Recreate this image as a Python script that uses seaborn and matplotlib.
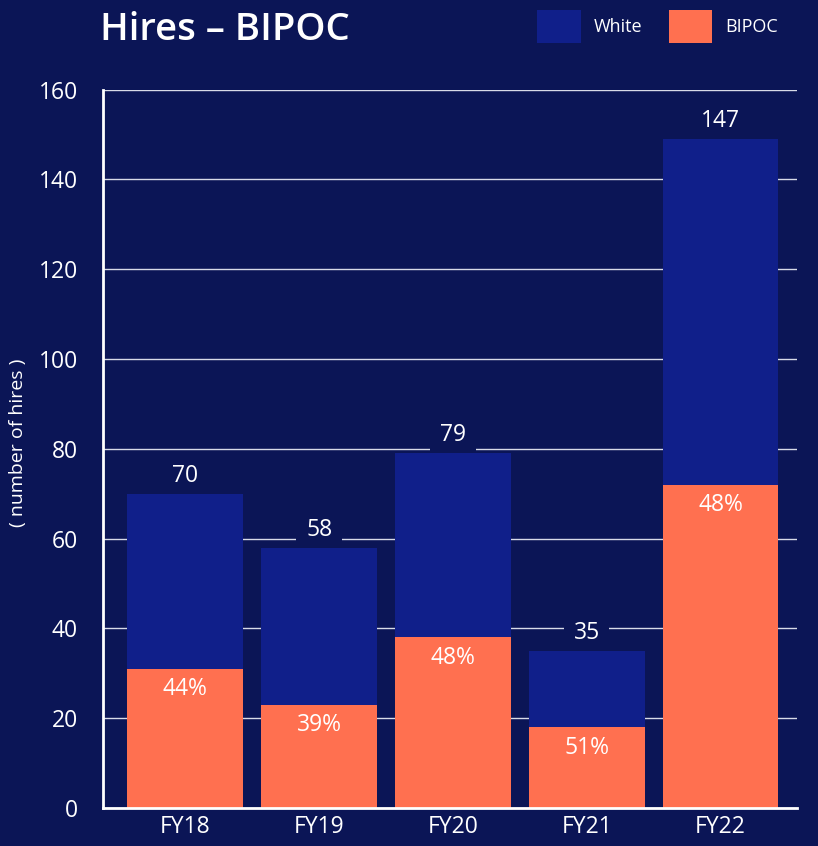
import matplotlib
matplotlib.use("Agg")
import matplotlib.pyplot as plt
import seaborn as sns
import pandas as pd
from matplotlib.patches import Patch

# data
years = ["FY18", "FY19", "FY20", "FY21", "FY22"]
bipoc = [31, 23, 38, 18, 72]
white = [39, 35, 41, 17, 77]
total_labels = ["70", "58", "79", "35", "147"]
pct_labels = ["44%", "39%", "48%", "51%", "48%"]

bg = "#0b1556"
c_white = "#101f8a"
c_bipoc = "#ff7050"

df = pd.DataFrame({"year": years, "bipoc": bipoc, "white": white})
df["total"] = df["bipoc"] + df["white"]

sns.set_style("white")
plt.rcParams["font.family"] = ["Open Sans", "DejaVu Sans"]

fig = plt.figure(figsize=(8.18, 8.46), dpi=100, facecolor=bg)
ax = fig.add_axes([0.126, 0.045, 0.848, 0.849])
ax.set_facecolor(bg)

sns.barplot(data=df, x="year", y="total", color=c_white, width=0.866,
            saturation=1, ax=ax, zorder=2, linewidth=0, edgecolor="none")
sns.barplot(data=df, x="year", y="bipoc", color=c_bipoc, width=0.866,
            saturation=1, ax=ax, zorder=2, linewidth=0, edgecolor="none")

ax.set_ylim(0, 160)
ax.set_xlim(-0.615, 4.57)
ax.set_yticks(range(0, 161, 20))
ax.yaxis.grid(True, color="#d8dbe8", lw=1)
ax.set_axisbelow(True)
for s in ["top", "right"]:
    ax.spines[s].set_visible(False)
for s in ["left", "bottom"]:
    ax.spines[s].set_color("white")
    ax.spines[s].set_linewidth(2)
ax.tick_params(axis="y", length=0, pad=18, labelsize=16.5, labelcolor="white")
ax.tick_params(axis="x", length=0, pad=5, labelsize=16.5, labelcolor="white")
ax.set_xlabel("")
ax.set_ylabel("")
fig.text(0.022, 0.476, "( number of hires )", color="white", fontsize=14,
         rotation=90, ha="center", va="center")

for i, row in df.iterrows():
    # total label sits on a background patch that hides the gridline
    ax.text(i, row["total"] + 4.0, total_labels[i], ha="center", va="center",
            color="white", fontsize=16.5, zorder=1.8,
            bbox=dict(facecolor=bg, edgecolor="none", pad=7))
    ax.text(i, row["bipoc"] - 4.6, pct_labels[i], ha="center", va="center",
            color="white", fontsize=16.5, zorder=3)

fig.text(0.122, 0.965, "Hires – BIPOC", color="white", fontsize=27.5,
         fontweight="semibold", ha="left", va="center")

handles = [Patch(facecolor=c_white, edgecolor="none", label="White"),
           Patch(facecolor=c_bipoc, edgecolor="none", label="BIPOC")]
fig.legend(handles=handles, loc="center right", bbox_to_anchor=(0.962, 0.969),
           ncol=2, frameon=False, fontsize=13, labelcolor="white",
           handlelength=2.4, handleheight=2.4, handletextpad=0.7,
           columnspacing=1.5, borderpad=0)

fig.savefig("out.png", dpi=100, facecolor=bg)
